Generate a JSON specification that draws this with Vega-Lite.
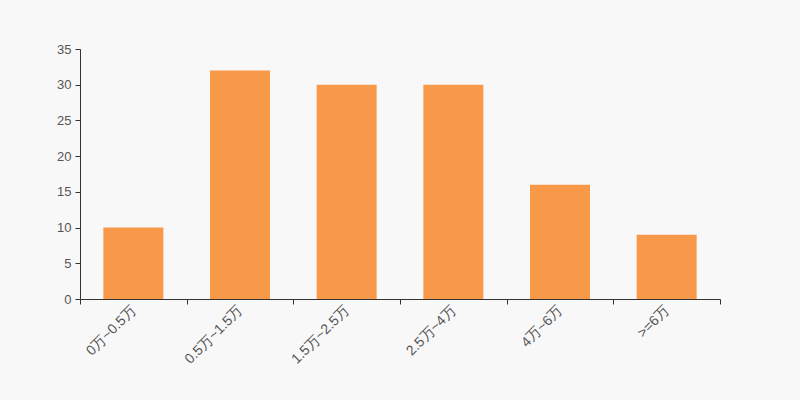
{
  "$schema": "https://vega.github.io/schema/vega-lite/v6.json",
  "width": 640,
  "height": 250,
  "autosize": "none",
  "padding": {"left": 80, "top": 49, "right": 80, "bottom": 101},
  "background": "#f8f8f8",
  "data": {"values": [
    {"range": "0万~0.5万", "count": 10},
    {"range": "0.5万~1.5万", "count": 32},
    {"range": "1.5万~2.5万", "count": 30},
    {"range": "2.5万~4万", "count": 30},
    {"range": "4万~6万", "count": 16},
    {"range": ">=6万", "count": 9}
  ]},
  "config": {"view": {"stroke": null}, "font": "Liberation Sans"},
  "mark": {"type": "bar", "color": "#f8994a", "width": {"band": 0.5625}},
  "encoding": {
    "x": {
      "field": "range", "type": "nominal", "sort": null,
      "scale": {"paddingInner": 0, "paddingOuter": 0},
      "axis": {
        "title": null, "labelAngle": -45, "labelAlign": "right", "labelBaseline": "middle",
        "labelFontSize": 14, "labelColor": "#555", "labelPadding": 4,
        "domainColor": "#333", "tickColor": "#333", "tickSize": 5,
        "tickBand": "extent", "grid": false
      }
    },
    "y": {
      "field": "count", "type": "quantitative",
      "scale": {"domain": [0, 35]},
      "axis": {
        "title": null, "values": [0, 5, 10, 15, 20, 25, 30, 35],
        "labelFontSize": 13, "labelColor": "#555", "labelPadding": 4,
        "domainColor": "#333", "tickColor": "#333", "tickSize": 5, "grid": false
      }
    }
  }
}
